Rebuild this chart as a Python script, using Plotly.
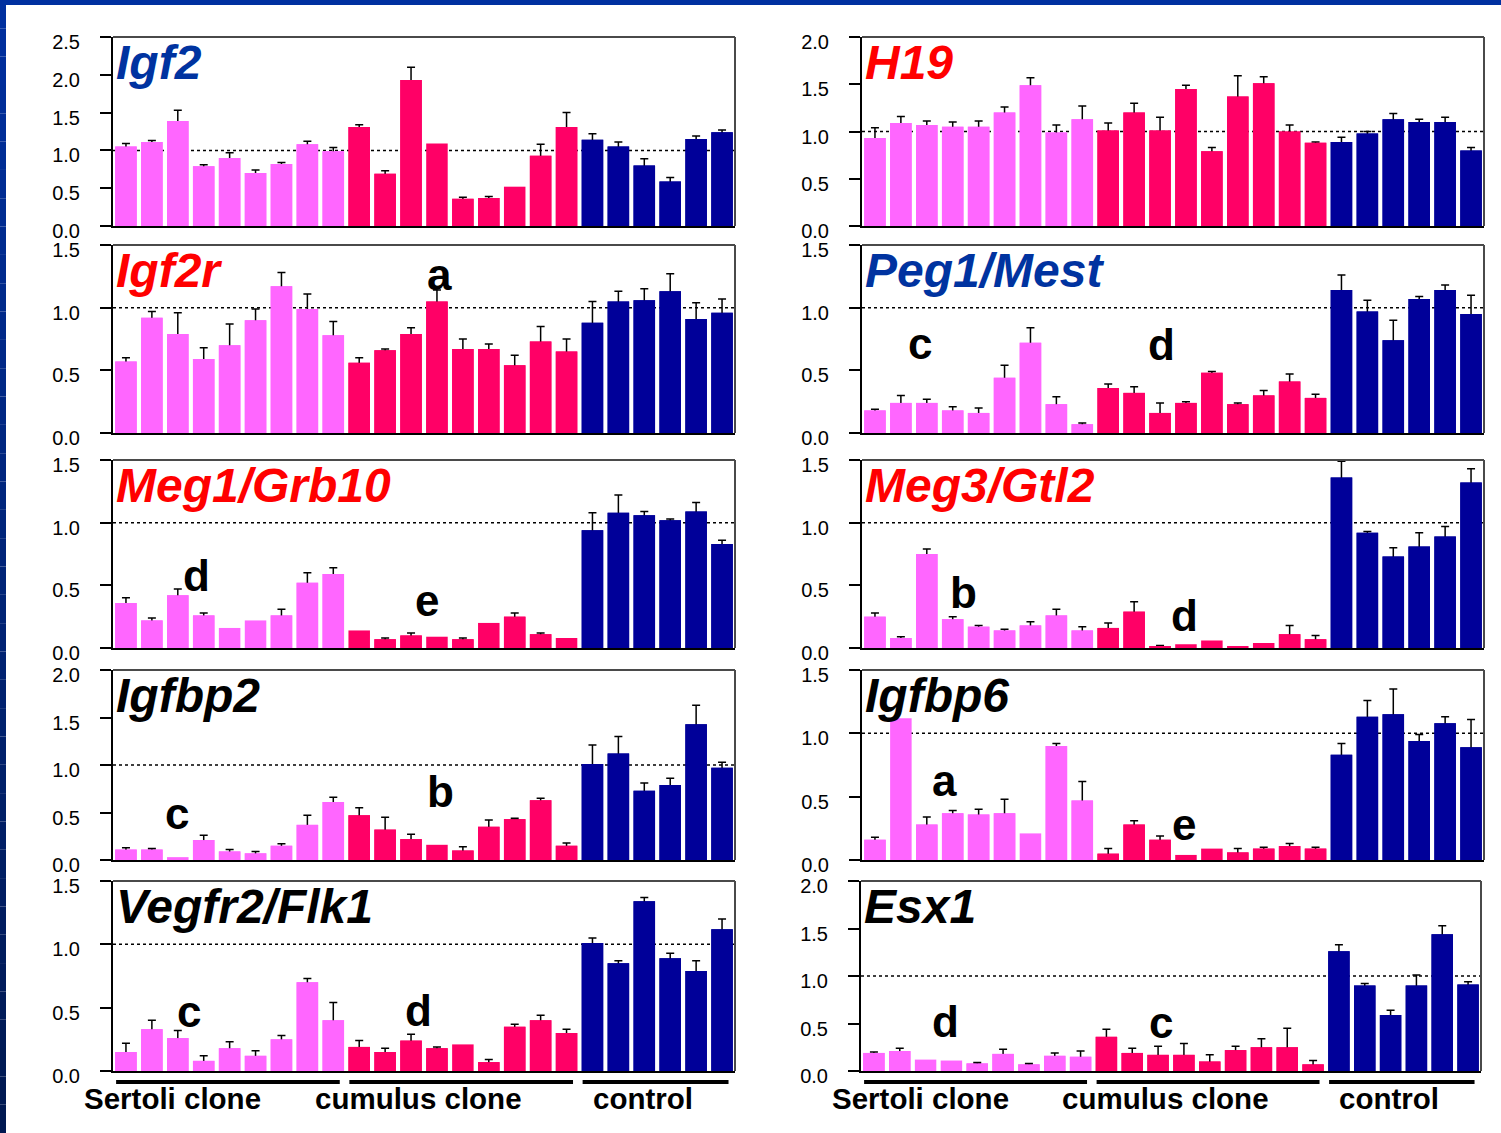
import plotly.graph_objects as go

W, H = 1501, 1133

# ---- samples and groups -------------------------------------------------
group_names = ["Sertoli clone", "cumulus clone", "control"]
group_sizes = [9, 9, 6]
group_colors = ["#FF66FF", "#FF0066", "#000099"]

# ---- relative expression (mean) and upper error (SEM); None = no error bar
igf2_mean = [1.05, 1.11, 1.39, 0.79, 0.90, 0.70, 0.82, 1.08, 0.99,
             1.31, 0.69, 1.93, 1.09, 0.36, 0.37, 0.52, 0.93, 1.31,
             1.14, 1.05, 0.80, 0.59, 1.15, 1.24]
igf2_err = [0.04, 0.02, 0.14, 0.02, 0.07, 0.04, 0.02, 0.04, 0.05,
            0.03, 0.04, 0.17, None, 0.02, 0.02, None, 0.15, 0.19,
            0.08, 0.06, 0.09, 0.05, 0.04, 0.03]

h19_mean = [0.93, 1.09, 1.07, 1.05, 1.05, 1.20, 1.49, 0.99, 1.13,
            1.01, 1.20, 1.01, 1.45, 0.79, 1.37, 1.51, 1.00, 0.88,
            0.89, 0.98, 1.13, 1.10, 1.10, 0.80]
h19_err = [0.11, 0.07, 0.04, 0.05, 0.06, 0.06, 0.08, 0.08, 0.14,
           0.08, 0.10, 0.14, 0.04, 0.04, 0.22, 0.07, 0.07, 0.01,
           0.05, 0.02, 0.06, 0.03, 0.05, 0.03]

igf2r_mean = [0.57, 0.92, 0.79, 0.59, 0.70, 0.90, 1.17, 0.99, 0.78,
              0.56, 0.66, 0.79, 1.05, 0.67, 0.67, 0.54, 0.73, 0.65,
              0.88, 1.05, 1.06, 1.13, 0.91, 0.96]
igf2r_err = [0.03, 0.05, 0.17, 0.09, 0.17, 0.09, 0.11, 0.12, 0.11,
             0.04, 0.01, 0.05, 0.09, 0.08, 0.04, 0.08, 0.12, 0.10,
             0.17, 0.08, 0.09, 0.14, 0.13, 0.11]

peg1_mean = [0.18, 0.24, 0.24, 0.18, 0.16, 0.44, 0.72, 0.23, 0.07,
             0.36, 0.32, 0.16, 0.24, 0.48, 0.23, 0.30, 0.41, 0.28,
             1.14, 0.97, 0.74, 1.07, 1.14, 0.95]
peg1_err = [0.01, 0.06, 0.03, 0.03, 0.04, 0.10, 0.12, 0.06, 0.01,
            0.03, 0.05, 0.08, 0.01, 0.01, 0.01, 0.04, 0.06, 0.03,
            0.12, 0.09, 0.16, 0.02, 0.04, 0.15]

meg1_mean = [0.36, 0.22, 0.42, 0.26, 0.16, 0.22, 0.26, 0.52, 0.59,
             0.14, 0.07, 0.10, 0.09, 0.07, 0.20, 0.25, 0.11, 0.08,
             0.94, 1.08, 1.06, 1.02, 1.09, 0.83]
meg1_err = [0.04, 0.02, 0.05, 0.02, None, None, 0.05, 0.08, 0.05,
            None, 0.01, 0.02, None, 0.01, None, 0.03, 0.01, None,
            0.14, 0.14, 0.03, 0.01, 0.07, 0.03]

meg3_mean = [0.25, 0.08, 0.75, 0.23, 0.17, 0.14, 0.18, 0.26, 0.14,
             0.16, 0.29, 0.01, 0.03, 0.06, 0.01, 0.04, 0.11, 0.07,
             1.36, 0.92, 0.73, 0.81, 0.89, 1.32]
meg3_err = [0.03, 0.01, 0.04, 0.02, 0.01, 0.01, 0.03, 0.05, 0.03,
            0.04, 0.08, 0.01, None, None, None, None, 0.07, 0.03,
            0.13, 0.01, 0.07, 0.11, 0.08, 0.11]

igfbp2_mean = [0.11, 0.11, 0.03, 0.21, 0.09, 0.07, 0.15, 0.37, 0.61,
               0.47, 0.32, 0.22, 0.16, 0.10, 0.35, 0.43, 0.63, 0.15,
               1.01, 1.12, 0.73, 0.79, 1.43, 0.97]
igfbp2_err = [0.02, 0.01, None, 0.05, 0.02, 0.02, 0.02, 0.10, 0.05,
              0.08, 0.13, 0.05, None, 0.04, 0.07, 0.01, 0.02, 0.03,
              0.20, 0.18, 0.08, 0.07, 0.20, 0.06]

igfbp6_mean = [0.16, 1.12, 0.28, 0.37, 0.36, 0.37, 0.21, 0.90, 0.47,
               0.05, 0.28, 0.16, 0.04, 0.09, 0.06, 0.09, 0.11, 0.09,
               0.83, 1.13, 1.15, 0.94, 1.08, 0.89]
igfbp6_err = [0.02, None, 0.06, 0.02, 0.04, 0.11, None, 0.02, 0.15,
              0.04, 0.03, 0.03, None, None, 0.03, 0.01, 0.02, 0.01,
              0.09, 0.13, 0.20, 0.05, 0.05, 0.22]

vegfr2_mean = [0.15, 0.33, 0.26, 0.08, 0.18, 0.12, 0.25, 0.70, 0.40,
               0.19, 0.15, 0.24, 0.18, 0.21, 0.07, 0.35, 0.40, 0.30,
               1.01, 0.85, 1.34, 0.89, 0.79, 1.12]
vegfr2_err = [0.07, 0.07, 0.06, 0.04, 0.05, 0.04, 0.03, 0.03, 0.14,
              0.05, 0.03, 0.05, 0.01, None, 0.02, 0.02, 0.04, 0.03,
              0.04, 0.02, 0.03, 0.04, 0.08, 0.08]

esx1_mean = [0.19, 0.21, 0.12, 0.11, 0.08, 0.18, 0.07, 0.16, 0.15,
             0.36, 0.19, 0.17, 0.17, 0.10, 0.22, 0.25, 0.25, 0.07,
             1.26, 0.90, 0.59, 0.90, 1.44, 0.91]
esx1_err = [0.01, 0.03, None, None, 0.01, 0.05, 0.01, 0.03, 0.06,
            0.08, 0.05, 0.09, 0.12, 0.07, 0.04, 0.09, 0.20, 0.04,
            0.07, 0.02, 0.05, 0.11, 0.09, 0.03]

# significance letters: (letter, sample position, y)
igf2r_marks = [("a", 12.1, 1.23)]
peg1_marks = [("c", 1.74, 0.68), ("d", 11.05, 0.71)]
meg1_marks = [("d", 2.72, 0.58), ("e", 11.6, 0.35)]
meg3_marks = [("b", 3.4, 0.44), ("d", 11.96, 0.26)]
igfbp2_marks = [("c", 1.95, 0.45), ("b", 12.13, 0.72)]
igfbp6_marks = [("a", 2.68, 0.60), ("e", 11.92, 0.25)]
vegfr2_marks = [("c", 2.45, 0.44), ("d", 11.27, 0.48)]
esx1_marks = [("d", 2.79, 0.52), ("c", 11.1, 0.47)]

BLUE_T, RED_T, BLACK_T = "#0033A0", "#FF0000", "#000000"

# gene, title colour, means, errors, y max, letters, row, column
panels = [
    ("Igf2", BLUE_T, igf2_mean, igf2_err, 2.5, [], 0, 0),
    ("H19", RED_T, h19_mean, h19_err, 2.0, [], 0, 1),
    ("Igf2r", RED_T, igf2r_mean, igf2r_err, 1.5, igf2r_marks, 1, 0),
    ("Peg1/Mest", BLUE_T, peg1_mean, peg1_err, 1.5, peg1_marks, 1, 1),
    ("Meg1/Grb10", RED_T, meg1_mean, meg1_err, 1.5, meg1_marks, 2, 0),
    ("Meg3/Gtl2", RED_T, meg3_mean, meg3_err, 1.5, meg3_marks, 2, 1),
    ("Igfbp2", BLACK_T, igfbp2_mean, igfbp2_err, 2.0, igfbp2_marks, 3, 0),
    ("Igfbp6", BLACK_T, igfbp6_mean, igfbp6_err, 1.5, igfbp6_marks, 3, 1),
    ("Vegfr2/Flk1", BLACK_T, vegfr2_mean, vegfr2_err, 1.5, vegfr2_marks, 4, 0),
    ("Esx1", BLACK_T, esx1_mean, esx1_err, 2.0, esx1_marks, 4, 1),
]

# panel frames in pixels
col_px = [(113, 735), (862, 1484)]
row_px = [(37, 226), (245, 433), (460, 648), (670, 860), (881, 1071)]

FONT = "Liberation Sans, Arial, sans-serif"

positions = list(range(sum(group_sizes)))
sample_colors = []
for c, n in zip(group_colors, group_sizes):
    sample_colors += [c] * n

fig = go.Figure()
layout_axes = {}
shapes = []
annotations = []

for k, (gene, tcol, mean, err, ymax, marks, r, c) in enumerate(panels):
    n = k + 1
    xs = "x" if n == 1 else f"x{n}"
    ys = "y" if n == 1 else f"y{n}"
    xl = "xaxis" if n == 1 else f"xaxis{n}"
    yl = "yaxis" if n == 1 else f"yaxis{n}"

    x0p, x1p = col_px[c]
    if gene == "Esx1":
        x0p, x1p = 861, 1481
    t_px, b_px = row_px[r]

    # bars carrying the error bars (their lower half is hidden by the bars drawn next)
    ie = [i for i, e in enumerate(err) if e is not None]
    fig.add_trace(go.Bar(
        x=[positions[i] for i in ie], y=[mean[i] for i in ie],
        marker=dict(color=[sample_colors[i] for i in ie], line=dict(width=0)),
        width=0.83,
        error_y=dict(type="data", array=[err[i] for i in ie], symmetric=True,
                     color="black", thickness=1.5, width=4),
        xaxis=xs, yaxis=ys, showlegend=False, hoverinfo="skip"))
    fig.add_trace(go.Bar(
        x=positions, y=mean,
        marker=dict(color=sample_colors, line=dict(width=0)),
        width=0.83,
        xaxis=xs, yaxis=ys, showlegend=False))

    layout_axes[xl] = dict(
        domain=[x0p / W, x1p / W], range=[-0.5, 23.5], anchor=ys,
        showticklabels=False, ticks="", showgrid=False, zeroline=False,
        showline=True, linecolor="black", linewidth=2, fixedrange=True,
        automargin=False)
    layout_axes[yl] = dict(
        domain=[1 - b_px / H, 1 - t_px / H], range=[0, ymax], anchor=xs,
        dtick=0.5, tick0=0, tickformat=".1f", ticks="outside", ticklen=11,
        tickwidth=1.5, tickcolor="black", showgrid=False, zeroline=False,
        showline=True, linecolor="black", linewidth=2,
        ticklabelstandoff=16, ticklabelshift=5, automargin=False,
        tickfont=dict(family=FONT, size=20, color="black"), fixedrange=True)

    xd = xs + " domain"
    yd = ys + " domain"
    # dotted reference level at 1.0
    shapes.append(dict(type="line", xref=xd, yref=ys, x0=0, x1=1, y0=1, y1=1,
                       line=dict(color="black", width=1.5, dash="dot"), layer="below"))
    # top and right edges of the frame
    shapes.append(dict(type="line", xref=xd, yref=yd, x0=0, x1=1, y0=1, y1=1,
                       line=dict(color="#4a4a4a", width=2)))
    shapes.append(dict(type="line", xref=xd, yref=yd, x0=1, x1=1, y0=0, y1=1,
                       line=dict(color="#4a4a4a", width=2)))

    # gene name
    annotations.append(dict(
        text=f"<b><i>{gene}</i></b>", xref=xd, yref=yd, x=0, y=1,
        xanchor="left", yanchor="top", xshift=1, yshift=3, showarrow=False,
        font=dict(family=FONT, size=48, color=tcol)))

    # significance letters
    for letter, lx, ly in marks:
        annotations.append(dict(
            text=f"<b>{letter}</b>", xref=xs, yref=ys, x=lx, y=ly,
            xanchor="center", yanchor="middle", showarrow=False,
            yshift=4 if letter in "ace" else 0,
            font=dict(family=FONT, size=44, color="black")))

    # group bars and labels under the bottom row
    if r == 4:
        start = 0
        label_pos = [1.8, 11.3, 19.95]
        for g, size in enumerate(group_sizes):
            first, last = start, start + size - 1
            shapes.append(dict(type="line", xref=xs, yref="paper",
                               x0=first - 0.38, x1=last + 0.25,
                               y0=1 - 1082 / H, y1=1 - 1082 / H,
                               line=dict(color="black", width=4)))
            annotations.append(dict(
                text=f"<b>{group_names[g]}</b>", xref=xs, yref="paper",
                x=label_pos[g], y=1 - 1098 / H, xanchor="center", yanchor="middle",
                showarrow=False, font=dict(family=FONT, size=29.5, color="black")))
            start += size

# slide border: top band and a darkening left band
shapes.append(dict(type="rect", xref="paper", yref="paper", x0=0, x1=1,
                   y0=1 - 5 / H, y1=1, fillcolor="#0030A0", line=dict(width=0)))
n_slices = 40
top_rgb, bot_rgb = (0, 48, 160), (0, 24, 80)
for s in range(n_slices):
    f = (s + 0.5) / n_slices
    rgb = tuple(round(a + (b - a) * f) for a, b in zip(top_rgb, bot_rgb))
    shapes.append(dict(type="rect", xref="paper", yref="paper",
                       x0=0, x1=6 / W, y0=1 - (s + 1) / n_slices, y1=1 - s / n_slices,
                       fillcolor="rgb(%d,%d,%d)" % rgb, line=dict(width=0)))

fig.update_layout(
    width=W, height=H,
    margin=dict(l=0, r=0, t=0, b=0, pad=0, autoexpand=False),
    paper_bgcolor="white", plot_bgcolor="white",
    barmode="overlay", showlegend=False,
    shapes=shapes, annotations=annotations,
    font=dict(family=FONT, color="black"),
    **layout_axes)

fig.write_html("out.html")
